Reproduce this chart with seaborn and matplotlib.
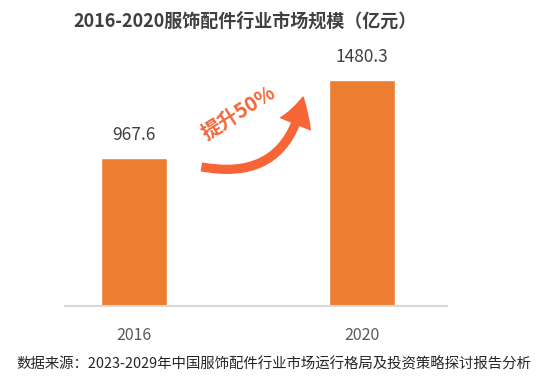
import matplotlib
matplotlib.use("Agg")
import matplotlib.pyplot as plt
import seaborn as sns
import pandas as pd

years = ["2016", "2020"]
values = [967.6, 1480.3]
title = "2016-2020服饰配件行业市场规模（亿元）"
source = "数据来源：2023-2029年中国服饰配件行业市场运行格局及投资策略探讨报告分析"
growth_label = "提升50%"

sns.set_theme(style="white")
plt.rcParams['font.family'] = ['Noto Sans CJK SC', 'DejaVu Sans']

df = pd.DataFrame({"year": years, "value": values})

W, H = 548, 378
fig = plt.figure(figsize=(W / 100, H / 100), dpi=100)
fig.patch.set_facecolor("white")
ax = fig.add_axes([65 / W, (H - 306) / H, (447 - 65) / W, 246 / H])

sns.barplot(data=df, x="year", y="value", color="#ED7D31", saturation=1,
            width=0.29, ax=ax)
ax.set_xlim(-0.303, 1.373)
ax.set_ylim(0, 1608)

for i, v in enumerate(values):
    ax.annotate(f"{v:.1f}", (i, v), xytext=(0, 10), textcoords="offset points",
                ha="center", va="bottom", fontsize=12.5, color="#404040")

for s in ["top", "left", "right"]:
    ax.spines[s].set_visible(False)
ax.spines["bottom"].set_color("#D9D9D9")
ax.spines["bottom"].set_linewidth(1.5)
ax.set_yticks([])
ax.set_xlabel("")
ax.set_ylabel("")
ax.tick_params(axis="x", length=0, pad=15, labelsize=11.5, labelcolor="#595959")

fig.text(245 / W, 1 - 21 / H, title, ha="center", va="center",
         fontsize=13, fontweight="bold", color="#404040")
fig.text(16 / W, 1 - 364 / H, source, ha="left", va="center",
         fontsize=10.4, style="italic", color="#262626")

# growth arrow
arrow_color = "#F76536"
ax.annotate("", xy=(303 / W, 1 - 97 / H), xycoords="figure fraction",
            xytext=(202 / W, 1 - 167 / H), textcoords="figure fraction",
            arrowprops=dict(arrowstyle="simple,head_length=1.0,head_width=1.15,tail_width=0.28",
                            connectionstyle="arc3,rad=0.5", color=arrow_color,
                            mutation_scale=20, shrinkA=0, shrinkB=0))
fig.text(238 / W, 1 - 113 / H, growth_label, ha="center", va="center",
         rotation=32, fontsize=14.5, fontweight="bold", color=arrow_color)

fig.savefig("out.png", dpi=100, facecolor="white")
